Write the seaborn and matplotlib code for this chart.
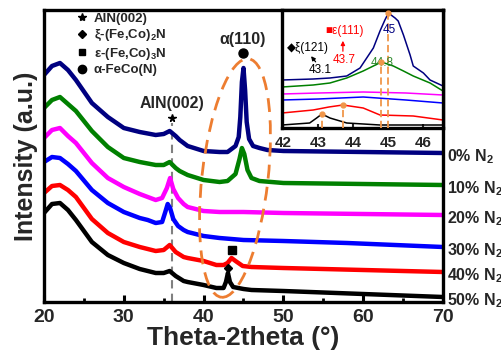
import numpy as np
import pandas as pd
import matplotlib
matplotlib.use("Agg")
import matplotlib.pyplot as plt
import seaborn as sns
from matplotlib.patches import Ellipse
from matplotlib.transforms import Affine2D
from matplotlib.lines import Line2D

# ---------------- data (arbitrary intensity units) ----
samples = ["0% N$_2$", "10% N$_2$", "20% N$_2$", "30% N$_2$", "40% N$_2$", "50% N$_2$"]
colors = ["#000080", "#008000", "#ff00ff", "#0000ff", "#ff0000", "#000000"]

x_0 = [20, 21, 22, 23, 24, 26, 28, 30, 32, 34, 35, 35.75, 36.5, 37, 38, 40, 42, 43, 44,
       44.4, 44.6, 44.8, 45, 45.2, 45.4, 45.7, 46.2, 47, 48, 50, 60, 70]
y_0 = [227, 236, 239, 232, 222, 199, 185, 174, 170, 167, 168, 171, 166, 162, 156, 151, 150, 150, 156,
       165, 185, 220, 234, 212, 180, 163, 156, 154, 152, 151, 150, 149]

x_10 = [20, 21, 22, 23, 24, 26, 28, 30, 32, 34, 35, 35.75, 36.5, 37, 38, 40, 42, 43, 44,
        44.5, 44.8, 45.1, 45.5, 46, 47, 50, 60, 70]
y_10 = [194, 202, 205, 198, 191, 171, 155, 144, 140, 137, 137, 140, 134, 131, 127, 122, 120, 121, 128,
        143, 154, 148, 132, 124, 121, 119, 118, 117]

x_20 = [20, 21, 22, 23, 24, 26, 28, 30, 32, 33, 34, 34.8, 35.4, 35.8, 36.2, 36.8, 37.5, 38, 40,
        42, 45, 50, 60, 70]
y_20 = [164, 172, 174, 166, 159, 139, 124, 115, 108, 105, 102, 104, 114, 124, 113, 104, 98, 95, 91,
        90, 90, 89, 88, 87]

x_30 = [20, 21, 22, 23, 24, 26, 28, 30, 32, 33, 34, 34.8, 35.2, 35.5, 35.8, 36.2, 36.8, 37.5, 38,
        40, 42, 45, 50, 58, 70]
y_30 = [140, 145, 144, 138, 131, 112, 99, 90, 84, 82, 79, 80, 90, 98, 94, 83, 76, 72, 70,
        66, 64, 62, 61, 59, 55]

x_40 = [20, 21, 22, 23, 24, 26, 28, 30, 32, 34, 35, 35.75, 36.5, 37.5, 38, 40, 41.6, 42.5, 43,
        43.5, 44, 44.9, 46, 50, 60, 70]
y_40 = [109, 116, 117, 112, 105, 83, 69, 60, 55, 51, 52, 57, 50, 45, 44, 41, 37, 37, 39,
        44, 41, 36, 35, 34, 32, 30]

x_50 = [20, 21, 22, 23, 24, 26, 28, 30, 32, 34, 35, 35.75, 36.5, 37.5, 38, 40, 41.6, 42.5, 42.8,
        43.05, 43.3, 43.7, 45, 46, 50, 60, 70]
y_50 = [89, 98, 99, 92, 82, 60, 47, 39, 33, 29, 29, 31, 26, 21, 20, 17, 14, 14, 20,
        29, 20, 15, 13, 12, 11, 8, 5]

# inset (zoom of 42-46.5 degrees, its own offsets)
xi_0 = [41.96, 42.85, 43.33, 43.81, 44.19, 44.57, 44.76, 44.90, 45.0, 45.19, 45.28, 45.43, 45.62,
        45.71, 46.0, 46.19, 46.56]
yi_0 = [48, 49, 50, 52, 60, 80, 97, 108, 115, 110, 107, 93, 73, 62, 55, 48, 42]
xi_10 = [41.96, 42.85, 43.33, 43.81, 44.28, 44.57, 44.8, 45.14, 45.43, 45.71, 46.19, 46.56]
yi_10 = [41, 43, 45, 50, 57, 62, 66, 62, 57, 52, 45, 37]
xi_20 = [41.96, 43.0, 44.28, 45.5, 46.56]
yi_20 = [34, 35, 36, 35, 33]
xi_30 = [41.96, 43.0, 44.28, 45.5, 46.56]
yi_30 = [28, 29, 31, 28, 25]
xi_40 = [41.96, 42.85, 43.3, 43.7, 44.28, 44.76, 45.71, 46.56]
yi_40 = [15, 18, 21, 23, 20, 13, 12, 8]
xi_50 = [41.96, 42.75, 42.95, 43.1, 43.33, 43.81, 44.76, 46.56]
yi_50 = [3, 5, 10, 14, 10, 5, 3, 3]

x_ticks = [20, 30, 40, 50, 60, 70]
xi_ticks = [42, 43, 44, 45, 46]
legend_labels = ["AlN(002)", "ξ-(Fe,Co)$_2$N", "ε-(Fe,Co)$_3$N", "α-FeCo(N)"]
aln_pos, alpha_pos, eps_pos, xi_pos = 36.0, 45.0, 43.5, 43.0

# ---------------- style ----------------
sns.set_theme(style="white")
plt.rcParams["font.family"] = ["Liberation Sans", "DejaVu Sans"]
plt.rcParams["font.weight"] = "bold"
plt.rcParams["mathtext.fontset"] = "custom"
plt.rcParams["mathtext.rm"] = "Liberation Sans:bold"
plt.rcParams["mathtext.it"] = "Liberation Sans:bold"
plt.rcParams["mathtext.bf"] = "Liberation Sans:bold"

W, H = 502, 358
fig = plt.figure(figsize=(W / 100, H / 100), dpi=100)
L, R, T, B = 44, 443, 10, 302
ax = fig.add_axes([L / W, (H - B) / H, (R - L) / W, (B - T) / H])

xs = [x_0, x_10, x_20, x_30, x_40, x_50]
ys = [y_0, y_10, y_20, y_30, y_40, y_50]
df = pd.concat([pd.DataFrame({"x": x, "y": y, "sample": s}) for x, y, s in zip(xs, ys, samples)])
pal = dict(zip(samples, colors))
sns.lineplot(data=df, x="x", y="y", hue="sample", palette=pal, estimator=None,
             lw=3.2, legend=False, ax=ax)

ax.set_xlim(20, 70)
ax.set_ylim(0, 292)
ax.set_xticks(x_ticks)
ax.set_xticks([25, 35, 45, 55, 65], minor=True)
ax.set_xticklabels([str(t) for t in x_ticks], fontsize=14, fontweight="bold")
ax.set_yticks([])
ax.tick_params(axis="x", which="both", direction="in", bottom=True, top=False, color="black")
ax.tick_params(axis="x", which="major", length=5, width=2.2, pad=5)
ax.tick_params(axis="x", which="minor", length=3, width=2.0)
for sp in ax.spines.values():
    sp.set_linewidth(2.4)
    sp.set_color("black")
ax.set_xlabel("Theta-2theta (°)", fontsize=19, fontweight="bold", labelpad=0)
ax.set_ylabel("Intensity (a.u.)", fontsize=18, fontweight="bold", labelpad=4)

# right-hand sample labels at the curve ends
for x, y, s in zip(xs, ys, samples):
    ax.text(70.5, y[-1] - 4, s, fontsize=11.5, fontweight="bold", va="center", ha="left", clip_on=False)

# AlN marker + dashed guide
aln_top = max(v for xv, v in zip(x_0, y_0) if 35 <= xv <= 37)
ax.vlines(aln_pos, 0, aln_top + 8, colors="#808080", linestyles=(0, (4, 2.5)), lw=1.5, zorder=1)
ax.plot([aln_pos], [aln_top + 13], marker="*", color="black", ms=5.5, ls="none")
ax.text(aln_pos, aln_top + 20, "AlN(002)", ha="center", va="bottom", fontsize=11.5, fontweight="bold")

# alpha(110)
alpha_top = max(y_0)
ax.plot([alpha_pos], [alpha_top + 10], marker="o", color="black", ms=6.5, ls="none", clip_on=False)
ax.text(alpha_pos - 0.1, alpha_top + 16, "α(110)", ha="center", va="bottom", fontsize=11.5, fontweight="bold")

# epsilon and xi markers
eps_top = max(v for xv, v in zip(x_40, y_40) if 43 <= xv <= 44)
ax.plot([eps_pos], [eps_top + 8], marker="s", color="black", ms=5.5, ls="none")
xi_top = max(v for xv, v in zip(x_50, y_50) if 42.5 <= xv <= 43.5)
ax.plot([xi_pos], [xi_top + 5], marker="D", color="black", ms=4.2, ls="none")

# orange dashed ellipse (drawn in a pixel-isotropic frame)
pxu = (R - L) / 50.0
ell = Ellipse((43.93 * pxu, 124), width=66, height=240, angle=-6.5, fill=False,
              edgecolor="#ED7D31", lw=2.0, ls=(0, (5, 3)),
              transform=Affine2D().scale(1 / pxu, 1) + ax.transData, zorder=5)
ax.add_patch(ell)

# legend of phases
handles = [Line2D([], [], marker="*", ls="none", color="black", ms=6),
           Line2D([], [], marker="D", ls="none", color="black", ms=4.2),
           Line2D([], [], marker="s", ls="none", color="black", ms=5),
           Line2D([], [], marker="o", ls="none", color="black", ms=6)]
leg = ax.legend(handles, legend_labels, loc="upper left", bbox_to_anchor=(0.075, 0.995),
                frameon=False, prop={"size": 9.5, "weight": "bold"}, labelspacing=0.18,
                handlelength=1.0, handletextpad=0.4, borderpad=0.1, borderaxespad=0)

# ---------------- inset ----------------
IL, IR, IT, IB = 282, 443, 10, 128
ax_in = fig.add_axes([IL / W, (H - IB) / H, (IR - IL) / W, (IB - IT) / H])
ax_in.set_facecolor("white")
xis = [xi_0, xi_10, xi_20, xi_30, xi_40, xi_50]
yis = [yi_0, yi_10, yi_20, yi_30, yi_40, yi_50]
dfi = pd.concat([pd.DataFrame({"x": x, "y": y, "sample": s}) for x, y, s in zip(xis, yis, samples)])
sns.lineplot(data=dfi, x="x", y="y", hue="sample", palette=pal, estimator=None,
             lw=1.1, legend=False, ax=ax_in)
ax_in.set_xlim(41.96, 46.56)
ax_in.set_ylim(0, 118)
ax_in.set_xticks(xi_ticks)
ax_in.set_xticklabels([str(t) for t in xi_ticks], fontsize=11, fontweight="bold")
ax_in.set_yticks([])
ax_in.tick_params(axis="x", direction="in", bottom=True, length=3, width=1.5, pad=6)
ax_in.set_xlabel("")
ax_in.set_ylabel("")
for sp in ax_in.spines.values():
    sp.set_linewidth(2.4)
    sp.set_color("black")

orange = "#F0964A"
peak_series = [(xi_0, yi_0, 44.5, 45.5), (xi_10, yi_10, 44.5, 45.2),
               (xi_40, yi_40, 43.4, 44.0), (xi_50, yi_50, 42.9, 43.3)]
for xv, yv, lo, hi in peak_series:
    px, py = max(((a, b) for a, b in zip(xv, yv) if lo <= a <= hi), key=lambda t: t[1])
    ax_in.vlines(px, 0, py, colors=orange, linestyles=(0, (4, 2)), lw=1.3, zorder=3)
    ax_in.plot([px], [py], marker="o", color=orange, ms=3.5, ls="none", zorder=4)

ax_in.text(45.02, 98, "45", color="#000080", fontsize=8.5, fontweight="normal", ha="center", va="center")
ax_in.text(44.83, 65, "44.8", color="#2e8b2e", fontsize=8.5, fontweight="normal", ha="center", va="center")
ax_in.text(43.73, 68, "43.7", color="#ff0000", fontsize=8.5, fontweight="normal", ha="center", va="center")
ax_in.text(43.76, 97, "■ε(111)", color="#ff0000", fontsize=8.5, fontweight="normal", ha="center", va="center")
ax_in.annotate("", xy=(43.7, 90), xytext=(43.7, 74),
               arrowprops=dict(arrowstyle="-|>", color="#ff0000", lw=0.9, mutation_scale=6))
ax_in.text(43.04, 58, "43.1", color="black", fontsize=8.5, fontweight="normal", ha="center", va="center")
ax_in.annotate("", xy=(42.74, 74), xytext=(42.97, 64),
               arrowprops=dict(arrowstyle="-|>", color="black", lw=0.9, mutation_scale=6))
ax_in.text(42.71, 80, "◆ξ(121)", color="black", fontsize=8.5, fontweight="normal", ha="center", va="center",
           family=["Liberation Sans", "DejaVu Sans"])

fig.savefig("out.png", dpi=100)
